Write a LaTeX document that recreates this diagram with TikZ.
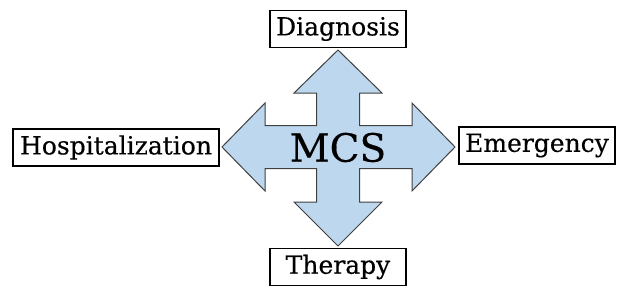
\documentclass[tikz,border=0pt]{standalone}
\usepackage{fontspec}
\setmainfont{DejaVu Serif}
\newfontfamily\boxfont{DejaVu Serif}[FakeBold=0.4]
\usetikzlibrary{calc}

\definecolor{arrowblue}{RGB}{189,215,238}
\tikzset{
  labelbox/.style={draw=black, line width=1.4pt, fill=white, inner sep=0pt,
    minimum height=37pt, font=\boxfont\fontsize{25}{27}\selectfont},
  crossarrow/.style={draw=black!75, line width=1pt, fill=arrowblue, line join=miter}
}

\begin{document}
\begin{tikzpicture}[x=1pt,y=-1pt]
  \useasboundingbox (0,0) rectangle (629,306);
  % the four-way arrow
  \coordinate (c) at (338,147);
  \draw[crossarrow]
    ($(c)+(0,-97)$) -- ($(c)+(44,-54)$) -- ($(c)+(21.5,-54)$) -- ($(c)+(21.5,-21.5)$)
    -- ($(c)+(74,-21.5)$) -- ($(c)+(74,-44)$) -- ($(c)+(117,0)$) -- ($(c)+(74,44)$)
    -- ($(c)+(74,21.5)$) -- ($(c)+(21.5,21.5)$) -- ($(c)+(21.5,55)$) -- ($(c)+(44,55)$)
    -- ($(c)+(0,99)$) -- ($(c)+(-44,55)$) -- ($(c)+(-21.5,55)$) -- ($(c)+(-21.5,21.5)$)
    -- ($(c)+(-73,21.5)$) -- ($(c)+(-73,44)$) -- ($(c)+(-116,0)$) -- ($(c)+(-73,-44)$)
    -- ($(c)+(-73,-21.5)$) -- ($(c)+(-21.5,-21.5)$) -- ($(c)+(-21.5,-54)$) -- ($(c)+(-44,-54)$)
    -- cycle;
  \node[font=\boxfont\fontsize{39}{42}\selectfont] (mcs) at ($(c)+(0,0.5)$) {MCS};
  % the four boxes
  \node[labelbox, minimum width=136pt] (diagnosis) at (338,29) {Diagnosis};
  \node[labelbox, minimum width=136pt] (therapy) at (338,267) {Therapy};
  \node[labelbox, minimum width=206pt] (hospitalization) at (116,147.5) {Hospitalization};
  \node[labelbox, minimum width=156pt] (emergency) at (537,145.5) {Emergency};
\end{tikzpicture}
\end{document}
